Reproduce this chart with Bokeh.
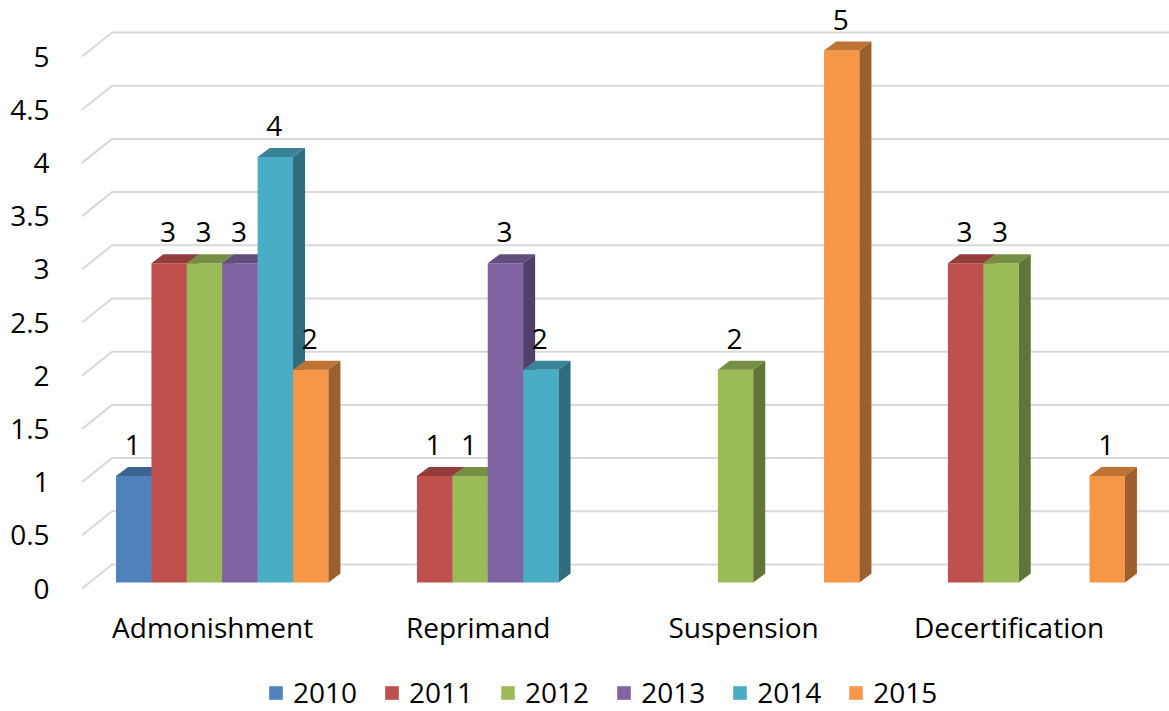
from bokeh.plotting import figure
from bokeh.models import Legend, LegendItem, FixedTicker, Range1d
from bokeh.core.properties import value
from bokeh.embed import file_html
from bokeh.resources import INLINE

# ---- data -------------------------------------------------------------
categories = ["Admonishment", "Reprimand", "Suspension", "Decertification"]
years = ["2010", "2011", "2012", "2013", "2014", "2015"]
v2010 = [1, None, None, None]
v2011 = [3, 1, None, 3]
v2012 = [3, 1, 2, 3]
v2013 = [3, 3, None, None]
v2014 = [4, 2, None, None]
v2015 = [2, None, 5, 1]
series_values = [v2010, v2011, v2012, v2013, v2014, v2015]
front_colors = ["#4F81BD", "#C0504D", "#9BBB59", "#8064A2", "#4BACC6", "#F79646"]
y_ticks = [0, 0.5, 1, 1.5, 2, 2.5, 3, 3.5, 4, 4.5, 5]
y_tick_labels = ["0", "0.5", "1", "1.5", "2", "2.5", "3", "3.5", "4", "4.5", "5"]

# ---- 3-D look (offsets in data units) ---------------------------------
FONT = "Open Sans"
FS = "28px"
GAP = 1.5                              # gap width between groups, in bar widths
BAR_W = 1.0 / (len(years) + GAP)       # bar width in category units
PLANE_DX, PLANE_DY = 0.0282, 0.0564    # floor front -> bar front plane
BAR_DX, BAR_DY = 0.0452, 0.0846        # bar depth
WALL_DX, WALL_DY = 0.113, 0.2256       # floor front -> back wall
X_START, X_END = -0.081, -0.081 + 1109 / 265.5
Y_END = 588 / 106.4
Y_START = Y_END - 711 / 106.4


def shade(hex_color, f):
    h = hex_color.lstrip("#")
    r, g, b = (int(h[i:i + 2], 16) for i in (0, 2, 4))
    return "#%02x%02x%02x" % (int(r * f), int(g * f), int(b * f))


p = figure(width=1169, height=711, frame_width=1109, frame_height=711,
           x_range=Range1d(X_START, X_END), y_range=Range1d(Y_START, Y_END),
           x_axis_type=None, output_backend="svg", toolbar_location=None,
           min_border_left=60, min_border_right=0, min_border_top=0,
           min_border_bottom=0)
p.outline_line_color = None
p.background_fill_color = "white"
p.border_fill_color = "white"
p.ygrid.visible = False

# y axis labels
p.yaxis.ticker = FixedTicker(ticks=y_ticks)
p.yaxis.major_label_overrides = {t: l for t, l in zip(y_ticks, y_tick_labels)}
p.yaxis.axis_line_color = None
p.yaxis.major_tick_line_color = None
p.yaxis.minor_tick_line_color = None
p.yaxis.major_tick_out = 0
p.yaxis.major_label_standoff = 11
p.yaxis.major_label_text_font = FONT
p.yaxis.major_label_text_font_size = FS
p.yaxis.major_label_text_color = "#000000"

# gridlines: floor front -> back wall -> across the back wall
grid_xs, grid_ys = [], []
for t in y_ticks:
    grid_xs.append([0, WALL_DX, X_END + 0.1])
    grid_ys.append([t, t + WALL_DY, t + WALL_DY])
p.multi_line(grid_xs, grid_ys, line_color="#D9D9D9", line_width=2)

# bars, one series after another so the right-hand neighbours overlap the sides
legend_items = []
for s, (vals, col) in enumerate(zip(series_values, front_colors)):
    left, right, bottom, top = [], [], [], []
    top_xs, top_ys, side_xs, side_ys = [], [], [], []
    lab_x, lab_y, lab_t = [], [], []
    for i, v in enumerate(vals):
        if v is None:
            continue
        x0 = i + GAP / 2 * BAR_W + s * BAR_W + PLANE_DX
        x1 = x0 + BAR_W
        b = PLANE_DY
        t = v + PLANE_DY
        left.append(x0); right.append(x1); bottom.append(b); top.append(t)
        top_xs.append([x0, x1, x1 + BAR_DX, x0 + BAR_DX])
        top_ys.append([t, t, t + BAR_DY, t + BAR_DY])
        side_xs.append([x1, x1 + BAR_DX, x1 + BAR_DX, x1])
        side_ys.append([b, b + BAR_DY, t + BAR_DY, t])
        lab_x.append((x0 + x1) / 2 - 0.004)
        lab_y.append(t + 0.29)
        lab_t.append(str(v))
    r = p.quad(left=left, right=right, bottom=bottom, top=top,
               fill_color=col, line_color=None)
    p.patches(top_xs, top_ys, fill_color=shade(col, 0.77), line_color=None)
    p.patches(side_xs, side_ys, fill_color=shade(col, 0.63), line_color=None)
    p.text(x=lab_x, y=lab_y, text=lab_t, text_align="center",
           text_baseline="alphabetic", text_font=value(FONT),
           text_font_size=FS, text_color="#000000")
    legend_items.append(LegendItem(label=years[s], renderers=[r]))

# category labels along the floor front
p.text(x=[i + 0.492 for i in range(len(categories))],
       y=[-0.366] * len(categories), text=categories,
       text_align="center", text_baseline="alphabetic",
       text_font=value(FONT), text_font_size=FS, text_color="#000000")

legend = Legend(items=legend_items, orientation="horizontal",
                location=(207, 0), glyph_width=17, glyph_height=17,
                label_standoff=9, spacing=26, padding=0, margin=0,
                border_line_color=None, background_fill_alpha=0,
                label_text_font=FONT, label_text_font_size=FS,
                label_text_color="#000000")
p.add_layout(legend)

open("out.html", "w").write(file_html(p, INLINE))
